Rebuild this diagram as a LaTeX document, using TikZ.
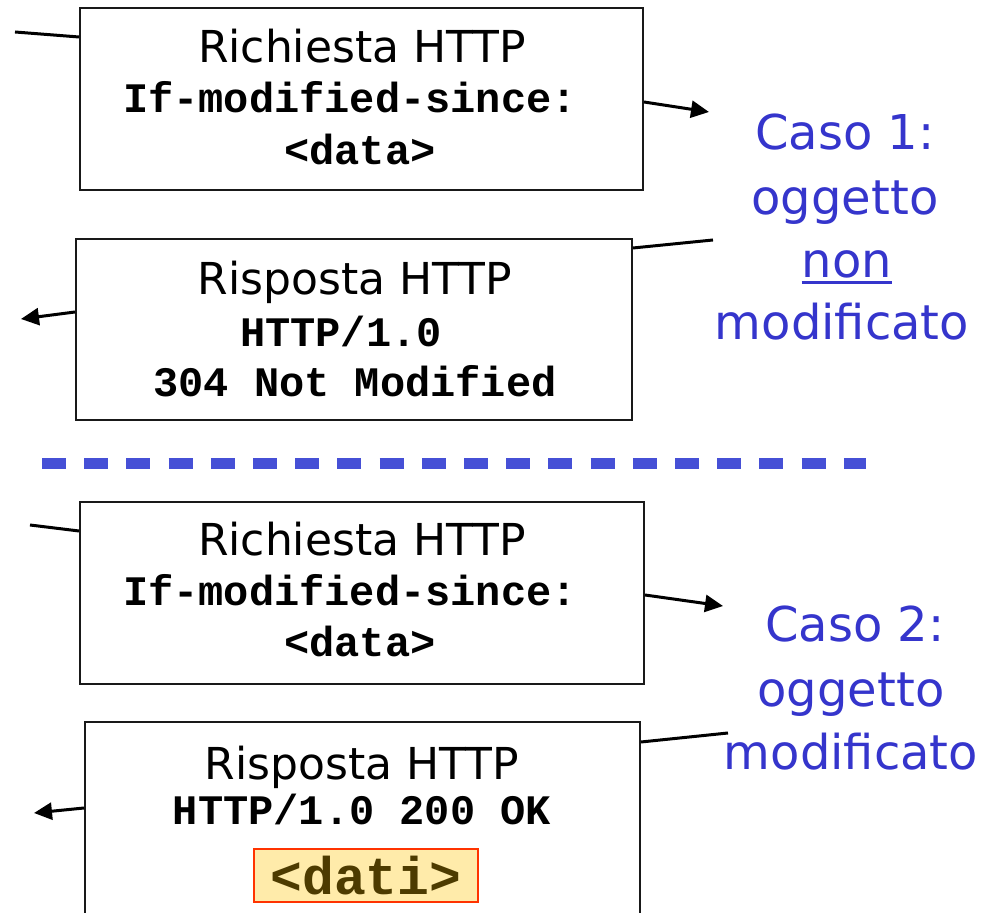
\documentclass[tikz,border=0pt]{standalone}
\usepackage{fontspec}
\setmainfont{DejaVu Sans}
\setmonofont{Liberation Mono}
\usetikzlibrary{arrows.meta}
\definecolor{casoblue}{HTML}{3535CC}
\definecolor{dashblue}{HTML}{4650D6}
\definecolor{datifill}{HTML}{FFEBAA}
\definecolor{datiborder}{HTML}{FF3300}
\definecolor{datitext}{HTML}{4D3B00}
\tikzset{
  msgbox/.style={draw=black!90, line width=2pt, inner sep=0pt},
  conn/.style={line width=3pt},
  arr/.style={conn, -{Triangle[length=18pt,width=17pt]}},
  hdr/.style={anchor=base, inner sep=0pt, font=\fontsize{44}{50}\selectfont},
  code/.style={anchor=base, inner sep=0pt, font=\fontsize{42}{50}\selectfont\ttfamily\bfseries},
  caso/.style={anchor=base, inner sep=0pt, text=casoblue, font=\fontsize{48}{60}\selectfont},
}
\begin{document}
\begin{tikzpicture}[x=1pt,y=1pt]
\clip (0,0) rectangle (994,913);
\fill[white] (0,0) rectangle (994,913);

% boxes
\node[msgbox, minimum width=563pt, minimum height=182pt] (b1) at (361.5,814) {};
\node[msgbox, minimum width=556pt, minimum height=181pt] (b2) at (354,583.5) {};
\node[msgbox, minimum width=564pt, minimum height=182pt] (b3) at (362,320) {};
\node[msgbox, minimum width=555pt, minimum height=231pt] (b4) at (362.5,75.5) {};

% box 1 text
\node[hdr]  (t1a) at (362,850) {Richiesta HTTP};
\node[code] (t1b) at (350,800) {If-modified-since:};
\node[code] (t1c) at (360,748) {<data>};
% box 2 text
\node[hdr]  (t2a) at (355,618) {Risposta HTTP};
\node[code] (t2b) at (341,566) {HTTP/1.0};
\node[code] (t2c) at (355,516) {304 Not Modified};
% box 3 text
\node[hdr]  (t3a) at (362,357) {Richiesta HTTP};
\node[code] (t3b) at (350,307) {If-modified-since:};
\node[code] (t3c) at (360,256) {<data>};
% box 4 text
\node[hdr]  (t4a) at (362,133) {Risposta HTTP};
\node[code] (t4b) at (362,88) {HTTP/1.0 200 OK};
\node[draw=datiborder, fill=datifill, line width=2pt, minimum width=224pt, minimum height=53pt,
      inner sep=0pt, text=datitext, font=\fontsize{53}{60}\selectfont\ttfamily\bfseries]
      (dati) at (366,37.5) {<dati>};

% case labels
\node[caso] (c1l1) at (845,763) {Caso 1:};
\node[caso] (c1l2) at (845,698) {oggetto};
\node[caso] (c1l3) at (847,635) {non};
\node[caso] (c1l4) at (842,573) {modificato};
\draw[casoblue, line width=3pt] ([yshift=-5pt]c1l3.base west) -- ([yshift=-5pt]c1l3.base east);

\node[caso] (c2l1) at (855,271) {Caso 2:};
\node[caso] (c2l2) at (851,206) {oggetto};
\node[caso] (c2l3) at (851,143) {modificato};

% separator
\draw[dashblue, line width=11pt, dash pattern=on 24pt off 18.2pt] (42,449) -- (866,449);

% free ends
\coordinate (e1a) at (15,881);
\coordinate (e1b) at (709,801);
\coordinate (e2a) at (713,673);
\coordinate (e2b) at (21,594);
\coordinate (e3a) at (30,388);
\coordinate (e3b) at (723,307);
\coordinate (e4a) at (728,180);
\coordinate (e4b) at (34,100);

% connectors
\draw[conn] (e1a) -- ([yshift=-30pt]b1.north west);
\draw[arr]  ([yshift=-95pt]b1.north east) -- (e1b);
\draw[conn] ([yshift=-10pt]b2.north east) -- (e2a);
\draw[arr]  ([yshift=-74pt]b2.north west) -- (e2b);
\draw[conn] (e3a) -- ([yshift=-30pt]b3.north west);
\draw[arr]  ([yshift=-94pt]b3.north east) -- (e3b);
\draw[conn] ([yshift=-21pt]b4.north east) -- (e4a);
\draw[arr]  ([yshift=-87pt]b4.north west) -- (e4b);
\end{tikzpicture}
\end{document}
